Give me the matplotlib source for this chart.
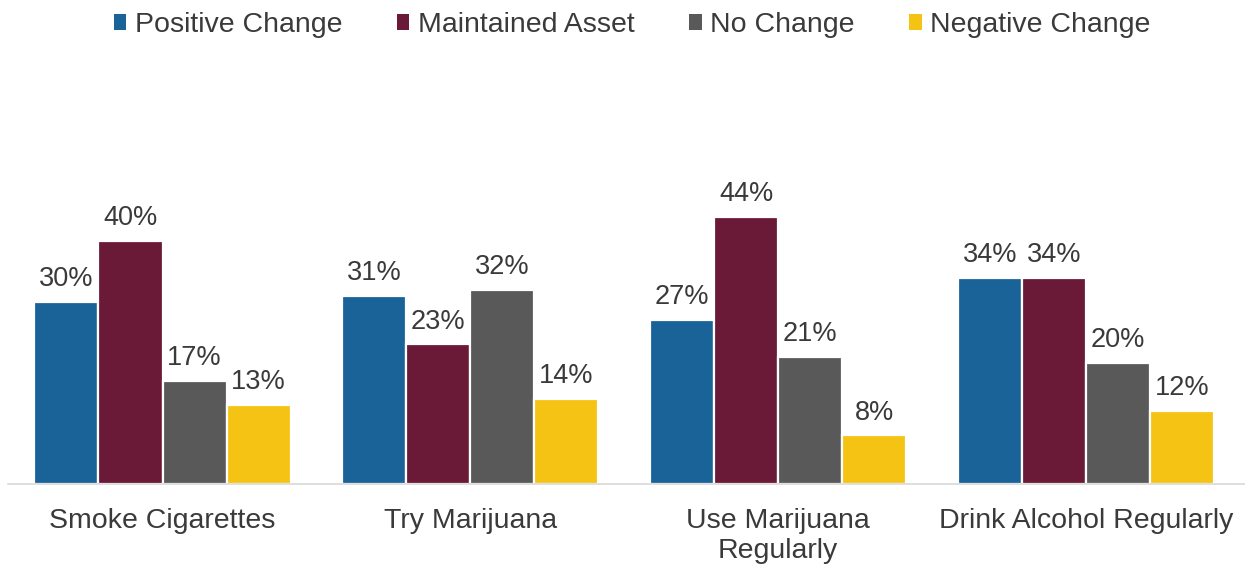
import matplotlib
matplotlib.use("Agg")
import matplotlib.pyplot as plt
import numpy as np
from matplotlib.patches import Patch

plt.rcParams['font.family'] = ['Liberation Sans', 'DejaVu Sans']

categories = ["Smoke Cigarettes", "Try Marijuana", "Use Marijuana\nRegularly", "Drink Alcohol Regularly"]
series_names = ["Positive Change", "Maintained Asset", "No Change", "Negative Change"]
positive_change = [30, 31, 27, 34]
maintained_asset = [40, 23, 44, 34]
no_change = [17, 32, 21, 20]
negative_change = [13, 14, 8, 12]
series_values = [positive_change, maintained_asset, no_change, negative_change]
colors = ["#1A6399", "#6A1A37", "#595959", "#F5C314"]
text_color = "#3A3A3A"

W, H = 1245, 568
fig = plt.figure(figsize=(W / 100, H / 100), dpi=100)

# axes placed in pixel terms: baseline at y=484, 6.07 px per percent
base_px = 484
px_per_pct = 6.07
ymax = 50
ax_left_px, ax_right_px = 8, 1245
ax = fig.add_axes([ax_left_px / W, (H - base_px) / H,
                   (ax_right_px - ax_left_px) / W, ymax * px_per_pct / H])

x = np.arange(len(categories))
width = 0.208
offsets = (np.arange(len(series_names)) - 1.5) * width

for vals, off, col, name in zip(series_values, offsets, colors, series_names):
    bars = ax.bar(x + off, vals, width, color=col, edgecolor="white",
                  linewidth=1.6, label=name, zorder=2)
    for b, v in zip(bars, vals):
        ax.annotate(f"{v}%", (b.get_x() + b.get_width() / 2, v),
                    xytext=(0, 7), textcoords="offset points",
                    ha="center", va="bottom", fontsize=19.5, color=text_color)

ax.set_xlim(-0.502, 3.517)
ax.set_ylim(0, ymax)
for s in ["top", "right", "left"]:
    ax.spines[s].set_visible(False)
ax.spines["bottom"].set_color("#D9D9D9")
ax.spines["bottom"].set_linewidth(1.2)
ax.set_yticks([])
ax.set_xticks(x)
ax.set_xticklabels(categories, fontsize=20.5, color=text_color, linespacing=1.2)
ax.tick_params(axis="x", length=0, pad=17)

handles = [Patch(facecolor=c, edgecolor="none", label=n) for c, n in zip(colors, series_names)]
fig.legend(handles=handles, loc="center", bbox_to_anchor=(632 / W, 1 - 25 / H),
           ncol=4, frameon=False, fontsize=20.5, handlelength=0.45, handleheight=0.5,
           handletextpad=0.3, columnspacing=1.9, labelcolor=text_color)

fig.savefig("out.png", dpi=100)
